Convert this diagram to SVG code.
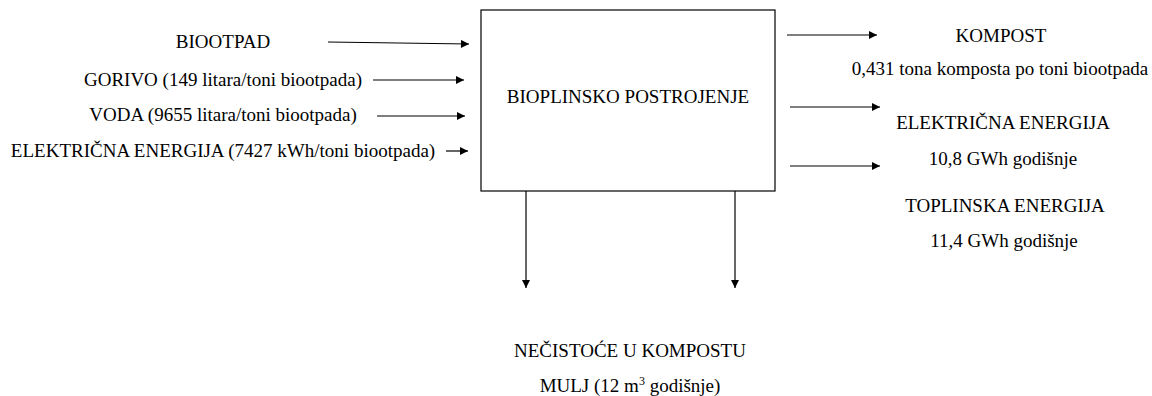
<svg xmlns="http://www.w3.org/2000/svg" width="1152" height="396" viewBox="0 0 1152 396">
<style>
text{font-family:'Times New Roman','Liberation Serif','DejaVu Serif',serif;font-size:19px;fill:#000}
.c{text-anchor:middle}
.l{stroke:#000;stroke-width:1.2;fill:none}
</style>
<defs>
<marker id="a" viewBox="0 0 10 10" refX="10" refY="5" markerWidth="9" markerHeight="8" markerUnits="userSpaceOnUse" orient="auto"><path d="M0,0 L10,5 L0,10 z" fill="#000"/></marker>
</defs>
<rect width="1152" height="396" fill="#fff"/>
<g id="box">
<rect x="481" y="10" width="294" height="181" fill="#fff" stroke="#000" stroke-width="1.2"/>
<text class="c" x="628" y="103">BIOPLINSKO POSTROJENJE</text>
</g>
<g id="inputs">
<text class="c" x="223" y="48">BIOOTPAD</text>
<text class="c" x="223" y="86">GORIVO (149 litara/toni biootpada)</text>
<text class="c" x="223" y="121">VODA (9655 litara/toni biootpada)</text>
<text class="c" x="223" y="157">ELEKTRIČNA ENERGIJA (7427 kWh/toni biootpada)</text>
</g>
<g id="outputs">
<text class="c" x="1001" y="42">KOMPOST</text>
<text class="c" x="1000" y="75">0,431 tona komposta po toni biootpada</text>
<text class="c" x="1003" y="129">ELEKTRIČNA ENERGIJA</text>
<text class="c" x="1003" y="165">10,8 GWh godišnje</text>
<text class="c" x="1005" y="212">TOPLINSKA ENERGIJA</text>
<text class="c" x="1004" y="247">11,4 GWh godišnje</text>
</g>
<g id="bottom">
<text class="c" x="630" y="357">NEČISTOĆE U KOMPOSTU</text>
<text class="c" x="630" y="392">MULJ (12 m<tspan dy="-7" font-size="12">3</tspan><tspan dy="7"> godišnje)</tspan></text>
</g>
<g id="connectors">
<line class="l" x1="328" y1="42" x2="469" y2="44" marker-end="url(#a)"/>
<line class="l" x1="373" y1="80" x2="464" y2="80" marker-end="url(#a)"/>
<line class="l" x1="377" y1="116" x2="465" y2="116" marker-end="url(#a)"/>
<line class="l" x1="446" y1="151" x2="468" y2="151" marker-end="url(#a)"/>
<line class="l" x1="787" y1="35" x2="877" y2="35" marker-end="url(#a)"/>
<line class="l" x1="790" y1="107" x2="880" y2="107" marker-end="url(#a)"/>
<line class="l" x1="790" y1="166" x2="880" y2="166" marker-end="url(#a)"/>
<line class="l" x1="526" y1="191" x2="526" y2="288" marker-end="url(#a)"/>
<line class="l" x1="735" y1="191" x2="735" y2="288" marker-end="url(#a)"/>
</g>
</svg>
